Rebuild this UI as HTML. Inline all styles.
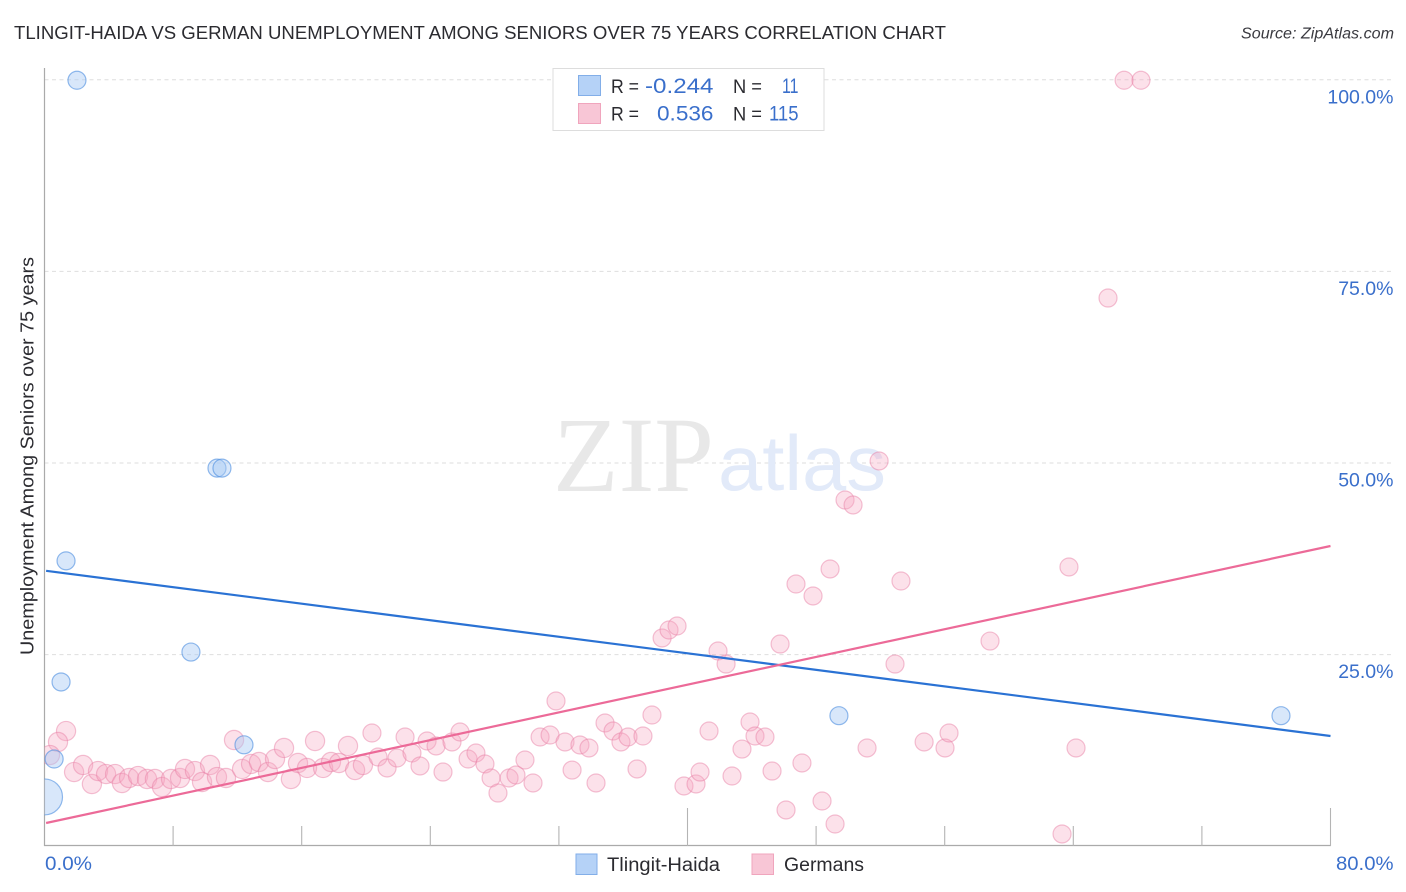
<!DOCTYPE html>
<html lang="en">
<head>
<meta charset="utf-8">
<title>Tlingit-Haida vs German Unemployment Among Seniors over 75 Years Correlation Chart</title>
<style>
html,body{margin:0;padding:0;background:#fff;width:1406px;height:892px;overflow:hidden}
svg{display:block}
text{font-family:"Liberation Sans",sans-serif}
</style>
</head>
<body>
<svg id="chart" xmlns="http://www.w3.org/2000/svg" width="1406" height="892" viewBox="0 0 1406 892">
  <defs>
    <clipPath id="plot-clip"><rect x="44.5" y="60" width="1300" height="786"/></clipPath>
  </defs>
  <rect x="0" y="0" width="1406" height="892" fill="#ffffff"/>
  <text x="14" y="39" font-size="18.5" fill="#2b2b30" textLength="932" lengthAdjust="spacingAndGlyphs">TLINGIT-HAIDA VS GERMAN UNEMPLOYMENT AMONG SENIORS OVER 75 YEARS CORRELATION CHART</text>
  <text x="1241" y="38.5" font-size="15.5" font-style="italic" fill="#3a3a40" textLength="153" lengthAdjust="spacingAndGlyphs">Source: ZipAtlas.com</text>
  <g id="grid"></g>
  <g>
    <text x="553" y="491" font-size="107" fill="#e8e8e8" textLength="161" lengthAdjust="spacingAndGlyphs" style="font-family:'Liberation Serif',serif">ZIP</text>
    <text x="718" y="490" font-size="78" fill="#e2eaf9" textLength="168" lengthAdjust="spacingAndGlyphs">atlas</text>
  </g>
  <g id="axes"></g>
  <g clip-path="url(#plot-clip)">
    <g id="german-points"></g>
    <g id="tlingit-points"></g>
  </g>
  <g id="trends"></g>
  <g id="y-labels"></g>
  <g id="x-labels"></g>
  <text transform="translate(33.5,456) rotate(-90)" font-size="18" fill="#2b2b30" text-anchor="middle" textLength="398" lengthAdjust="spacingAndGlyphs">Unemployment Among Seniors over 75 years</text>

  <g>
    <rect x="553" y="68.5" width="271" height="62" fill="#ffffff" stroke="#dddddd" stroke-width="1"/>
    <rect x="578.5" y="75.5" width="22" height="20" fill="#b5d2f7" stroke="#82aee8" stroke-width="1"/>
    <rect x="578.5" y="103.5" width="22" height="20" fill="#f8c6d6" stroke="#f0a5bd" stroke-width="1"/>
    <text x="611" y="93" font-size="19" fill="#2b2b30" textLength="28" lengthAdjust="spacingAndGlyphs">R =</text>
    <text x="645" y="93" font-size="21.5" fill="#3a6fcb" textLength="68.5" lengthAdjust="spacingAndGlyphs">-0.244</text>
    <text x="733" y="93" font-size="19" fill="#2b2b30" textLength="29" lengthAdjust="spacingAndGlyphs">N =</text>
    <text x="782" y="93" font-size="21.5" fill="#3a6fcb" textLength="16.5" lengthAdjust="spacingAndGlyphs">11</text>
    <text x="611" y="120.5" font-size="19" fill="#2b2b30" textLength="28" lengthAdjust="spacingAndGlyphs">R =</text>
    <text x="657" y="120.5" font-size="21.5" fill="#3a6fcb" textLength="56.5" lengthAdjust="spacingAndGlyphs">0.536</text>
    <text x="733" y="120.5" font-size="19" fill="#2b2b30" textLength="29" lengthAdjust="spacingAndGlyphs">N =</text>
    <text x="769" y="120.5" font-size="21.5" fill="#3a6fcb" textLength="29.5" lengthAdjust="spacingAndGlyphs">115</text>
  </g>

  <g>
    <rect x="576" y="854" width="21" height="20.5" fill="#b5d2f7" stroke="#82aee8" stroke-width="1"/>
    <text x="607" y="871" font-size="19" fill="#2b2b30" textLength="113" lengthAdjust="spacingAndGlyphs">Tlingit-Haida</text>
    <rect x="752" y="854" width="21.5" height="20.5" fill="#f8c6d6" stroke="#f0a5bd" stroke-width="1"/>
    <text x="784" y="871" font-size="19" fill="#2b2b30" textLength="80" lengthAdjust="spacingAndGlyphs">Germans</text>
  </g>
</svg>
<script>
// Chart data (percent units)
var yTickValues = [100, 75, 50, 25];
var yTickLabels = ["100.0%", "75.0%", "50.0%", "25.0%"];
var xTickValues = [0, 8, 16, 24, 32, 40, 48, 56, 64, 72, 80];
var xEndLabels = ["0.0%", "80.0%"];

var tlingitX = [2.02, 0.60, 1.34, 1.03, 9.11, 10.73, 11.04, 12.41, 49.42, 76.92, 0];
var tlingitY = [99.9, 11.35, 37.2, 21.4, 25.3, 49.3, 49.3, 13.2, 17.0, 17.0, 6.4];
var tlingitPopulation = [1, 1, 1, 1, 1, 1, 1, 1, 1, 1, 4];

var germanX = [1.34,0.84,0.34,1.84,2.40,2.95,3.33,3.83,4.39,4.82,5.26,5.82,6.38,6.87,7.31,7.87,8.43,8.74,9.36,9.80,
  10.30,10.73,11.29,11.79,12.29,12.85,13.34,13.90,14.34,14.90,15.33,15.77,16.33,16.83,17.33,17.82,18.32,18.88,19.32,19.81,
  20.37,20.75,21.31,21.93,22.43,31.82,22.86,23.36,23.80,24.36,24.79,25.35,25.85,26.35,26.84,27.40,27.78,28.21,28.90,29.33,
  29.89,30.39,30.83,31.45,32.38,33.31,33.87,32.82,34.31,34.87,35.37,35.86,36.30,37.23,37.79,36.86,41.34,39.78,40.53,40.78,
  42.77,43.39,43.89,44.20,44.82,45.26,46.13,47.12,48.37,49.18,51.17,54.72,56.02,56.27,63.30,64.17,52.91,58.82,45.76,41.90,
  42.40,38.42,38.85,39.35,47.81,46.75,48.87,53.28,63.73,66.16,67.16,68.21,51.92,49.80,50.30];
var germanY = [15.0,13.57,11.87,9.65,10.57,8.09,9.78,9.39,9.39,8.22,8.87,9.13,8.74,8.74,7.70,8.74,8.87,10.05,9.78,8.35,
  10.57,9.0,8.87,13.83,10.05,10.70,10.96,9.65,11.35,12.79,8.74,10.83,10.18,13.70,10.18,10.96,10.83,13.05,9.91,10.57,
  14.74,11.61,10.18,11.48,14.22,18.92,12.13,10.44,13.70,13.05,9.65,13.57,14.87,11.35,12.13,10.70,8.87,6.91,8.87,9.26,
  11.22,8.22,14.22,14.48,13.57,13.18,12.79,9.91,8.22,16.05,15.0,13.57,14.22,14.35,17.09,10.05,15.0,7.83,8.09,9.65,
  9.13,12.65,16.18,14.35,14.22,9.78,4.70,10.83,5.87,2.87,12.79,13.57,12.79,14.74,1.57,12.79,23.74,26.74,26.35,25.44,
  23.74,27.14,28.18,28.70,32.62,34.18,36.14,34.57,36.40,71.49,99.9,99.9,50.23,45.14,44.49];

var tlingitTrendX = [0.1, 80];
var tlingitTrendY = [35.9, 14.35];
var germanTrendX = [0.1, 80];
var germanTrendY = [3.0, 39.14];

// Axis functions
function xScale(v) { return 44.5 + v * 16.075; }
function yScale(v) { return 846 - v * 7.665; }

var NS = "http://www.w3.org/2000/svg";
function make(tag, parentId, attrs) {
  var el = document.createElementNS(NS, tag);
  for (var k in attrs) { el.setAttribute(k, attrs[k]); }
  document.getElementById(parentId).appendChild(el);
  return el;
}

yTickValues.forEach(function (v, i) {
  var line = make("line", "grid", { x1: 44.5, x2: 1394, y1: yScale(v) + 0.2, y2: yScale(v) + 0.2, stroke: "#dedede", "stroke-width": 1, "stroke-dasharray": "4 3.5" });
  
  
  var label = make("text", "y-labels", { x: 1393.5, y: yScale(v) + 23.8, "font-size": 19.5, fill: "#3a6fcb", "text-anchor": "end" });
  label.textContent = yTickLabels[i];
  
  
});

var yAxisLine = make("line", "axes", { x1: 44.5, x2: 44.5, y1: 68, y2: 846, stroke: "#aaaaaa", "stroke-width": 1.2 });


var xAxisLine = make("line", "axes", { x1: 44, x2: xScale(80) + 0.5, y1: 845.5, y2: 845.5, stroke: "#aaaaaa", "stroke-width": 1.2 });



xTickValues.forEach(function (v) {
  if (v === 0) { return; }
  var major = (v % 40 === 0);
  var tick = make("line", "axes", { x1: xScale(v), x2: xScale(v), y1: major ? 808 : 826, y2: 846, stroke: "#b4b4b4", "stroke-width": 1.1 });
  
  
});

var xStart = make("text", "x-labels", { x: xScale(0) + 0.5, y: 870, "font-size": 19.5, fill: "#3a6fcb", textLength: 47, lengthAdjust: "spacingAndGlyphs" });
xStart.textContent = xEndLabels[0];


var xEnd = make("text", "x-labels", { x: 1336, y: 870, "font-size": 19.5, fill: "#3a6fcb", textLength: 57.5, lengthAdjust: "spacingAndGlyphs" });
xEnd.textContent = xEndLabels[1];



germanX.forEach(function (x, i) {
  var c = make("circle", "german-points", { cx: xScale(x), cy: yScale(germanY[i]), r: x < 20 ? 9.6 : 9, fill: "#f6a8c2", "fill-opacity": 0.34, stroke: "#e97fa5", "stroke-opacity": 0.48, "stroke-width": 1.2 });
  
  
});

tlingitX.forEach(function (x, i) {
  var c = make("circle", "tlingit-points", { cx: xScale(x), cy: yScale(tlingitY[i]), r: 9 * Math.sqrt(tlingitPopulation[i]), fill: "#a9c9f4", "fill-opacity": 0.45, stroke: "#4f8fe0", "stroke-opacity": 0.62, "stroke-width": 1.2 });
  
  
});

var blueTrend = make("line", "trends", { x1: xScale(tlingitTrendX[0]), y1: yScale(tlingitTrendY[0]), x2: xScale(tlingitTrendX[1]), y2: yScale(tlingitTrendY[1]), stroke: "#2a72d4", "stroke-width": 2.2 });


var pinkTrend = make("line", "trends", { x1: xScale(germanTrendX[0]), y1: yScale(germanTrendY[0]), x2: xScale(germanTrendX[1]), y2: yScale(germanTrendY[1]), stroke: "#ec6a98", "stroke-width": 2.2 });


</script>
</body>
</html>
